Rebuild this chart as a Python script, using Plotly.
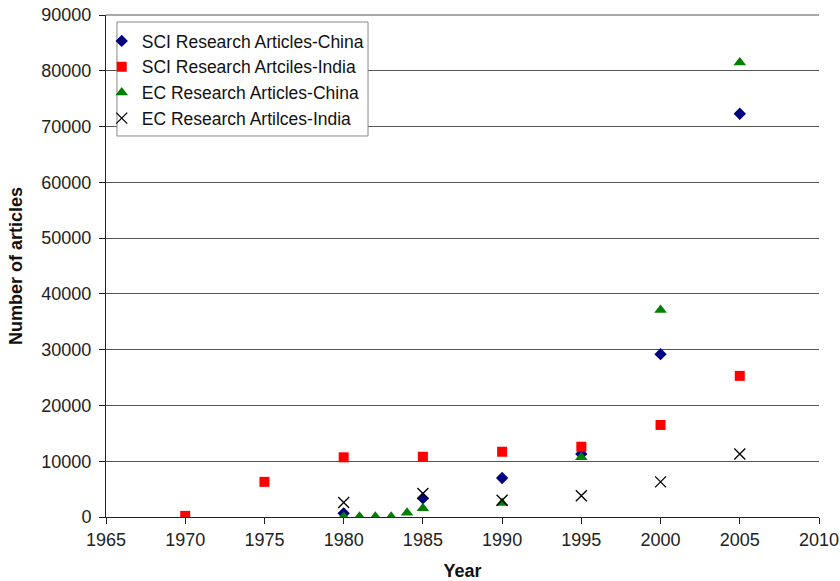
import plotly.graph_objects as go

years_sci_china = [1980, 1985, 1990, 1995, 2000, 2005]
sci_china = [650, 3350, 7000, 11300, 29200, 72300]

years_sci_india = [1970, 1975, 1980, 1985, 1990, 1995, 2000, 2005]
sci_india = [200, 6300, 10700, 10800, 11700, 12600, 16500, 25300]

years_ec_china = [1980, 1981, 1982, 1983, 1984, 1985, 1990, 1995, 2000, 2005]
ec_china = [50, 50, 50, 50, 750, 1550, 2500, 10700, 37100, 81500]

years_ec_india = [1980, 1985, 1990, 1995, 2000, 2005]
ec_india = [2600, 4200, 3000, 3800, 6300, 11300]

names = ["SCI Research Articles-China", "SCI Research Artciles-India",
         "EC Research Articles-China", "EC Research Artilces-India"]

fig = go.Figure()
fig.add_trace(go.Scatter(x=years_sci_china, y=sci_china, mode="markers", name=names[0],
                         marker=dict(symbol="diamond", color="#000080", size=9.5)))
fig.add_trace(go.Scatter(x=years_sci_india, y=sci_india, mode="markers", name=names[1],
                         marker=dict(symbol="square", color="#FF0000", size=10)))
fig.add_trace(go.Scatter(x=years_ec_china, y=ec_china, mode="markers", name=names[2],
                         marker=dict(symbol="triangle-up", color="#008000", size=11)))
fig.add_trace(go.Scatter(x=years_ec_india, y=ec_india, mode="markers", name=names[3],
                         marker=dict(symbol="x-thin-open", color="#000000", size=11,
                                     line=dict(width=1.3, color="#000000"))))

# top border line of the plot area (at the 90000 gridline)
fig.add_shape(type="line", xref="paper", yref="paper", x0=0, x1=1, y0=1, y1=1,
              line=dict(color="#555555", width=1), layer="below")

# legend frame drawn as a shape (paper coords)
fig.add_shape(type="rect", xref="paper", yref="paper",
              x0=0.0154, x1=0.3675, y0=0.759, y1=0.986,
              fillcolor="white", line=dict(color="#888888", width=1), layer="above")

font_family = "Liberation Sans, Arial, sans-serif"
fig.update_layout(
    width=840, height=581,
    margin=dict(l=106, r=21, t=15, b=64),
    paper_bgcolor="white", plot_bgcolor="white",
    font=dict(family=font_family, size=18, color="#222222"),
    showlegend=True,
    legend=dict(x=-0.006, y=0.984, xanchor="left", yanchor="top",
                bgcolor="rgba(0,0,0,0)", borderwidth=0,
                font=dict(size=17.5, color="#111111"), itemwidth=30),
    xaxis=dict(range=[1965, 2010], dtick=5, tick0=1965, showgrid=False,
               showline=True, linecolor="#222222", linewidth=1,
               ticks="outside", ticklen=6, tickcolor="#222222",
               zeroline=False, automargin=False, ticklabeloverflow="allow",
               title=dict(text="<b>Year</b>", font=dict(size=18, color="#111111"), standoff=16)),
    yaxis=dict(range=[0, 90000], dtick=10000, showgrid=True, gridcolor="#555555", gridwidth=1,
               showline=True, linecolor="#222222", linewidth=1,
               ticks="outside", ticklen=6, tickcolor="#222222", tickformat="d",
               zeroline=False, automargin=False, ticklabelstandoff=4, ticklabeloverflow="allow",
               title=dict(text="<b>Number of articles</b>", font=dict(size=18, color="#111111"), standoff=14)),
)

fig.write_html("out.html",
               config={"displayModeBar": False},
               post_script="document.body.style.margin='0';document.body.style.overflow='hidden';")
